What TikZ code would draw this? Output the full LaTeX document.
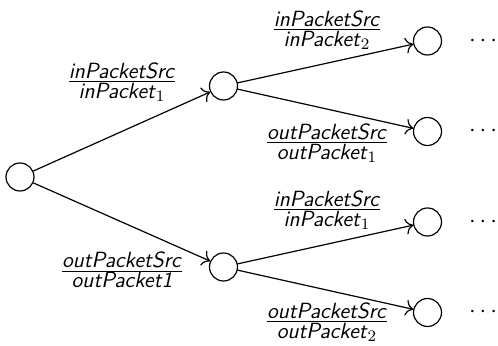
\documentclass[tikz,border=0pt]{standalone}
\usetikzlibrary{arrows.meta}
\newcommand\pkt[1]{\textsf{\textit{#1}}}
\newcommand\lfr[2]{$\frac{\textstyle #1}{\textstyle #2}$}
\begin{document}
\begin{tikzpicture}[x=0.5pt,y=-0.5pt,>={To[scale=1.3]},semithick,
  st/.style={circle,draw,minimum size=14pt,inner sep=0pt},
  lbl/.style={inner sep=1pt,font=\fontsize{11}{13}\selectfont},
  dts/.style={inner sep=0pt,font=\fontsize{13}{15}\selectfont}]
\useasboundingbox (0,0) rectangle (498,346);
\node[st] (r) at (20,177) {};
\node[st] (a) at (223.5,86) {};
\node[st] (b) at (223.5,267) {};
\node[st] (aa) at (427.5,41) {};
\node[st] (ab) at (427.5,131.5) {};
\node[st] (ba) at (427.5,222) {};
\node[st] (bb) at (427.5,312.5) {};
\node[dts] (daa) at (483,41) {$\cdots$};
\node[dts] (dab) at (483,131.5) {$\cdots$};
\node[dts] (dba) at (483,222) {$\cdots$};
\node[dts] (dbb) at (483,312.5) {$\cdots$};
\draw[->] (r) -- (a);
\draw[->] (r) -- (b);
\draw[->] (a) -- (aa);
\draw[->] (a) -- (ab);
\draw[->] (b) -- (ba);
\draw[->] (b) -- (bb);
\node[lbl] (l1) at (122,82) {\lfr{\pkt{inPacketSrc}}{\pkt{inPacket}_1}};
\node[lbl] (l2) at (122,270) {\lfr{\pkt{outPacketSrc}}{\pkt{outPacket1}}};
\node[lbl] (l3) at (327,30) {\lfr{\pkt{inPacketSrc}}{\pkt{inPacket}_2}};
\node[lbl] (l4) at (327,143) {\lfr{\pkt{outPacketSrc}}{\pkt{outPacket}_1}};
\node[lbl] (l5) at (327,210) {\lfr{\pkt{inPacketSrc}}{\pkt{inPacket}_1}};
\node[lbl] (l6) at (327,322) {\lfr{\pkt{outPacketSrc}}{\pkt{outPacket}_2}};
\end{tikzpicture}
\end{document}
